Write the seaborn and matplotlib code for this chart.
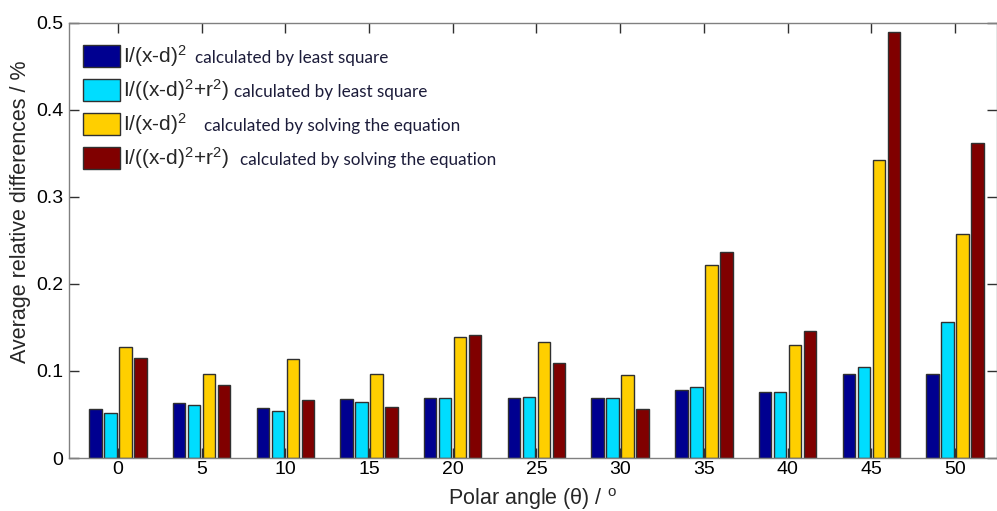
import numpy as np
import pandas as pd
import matplotlib
matplotlib.use("Agg")
import matplotlib.pyplot as plt
from matplotlib.ticker import FuncFormatter
import seaborn as sns

# Polar angles (degrees) and the average relative differences (%) per method
angles = [0, 5, 10, 15, 20, 25, 30, 35, 40, 45, 50]
ls_inv_sq = [0.056, 0.063, 0.057, 0.068, 0.069, 0.069, 0.069, 0.078, 0.076, 0.097, 0.096]
ls_inv_sq_r = [0.052, 0.061, 0.054, 0.064, 0.069, 0.070, 0.069, 0.082, 0.076, 0.105, 0.156]
eq_inv_sq = [0.127, 0.097, 0.114, 0.097, 0.139, 0.133, 0.095, 0.222, 0.130, 0.342, 0.257]
eq_inv_sq_r = [0.115, 0.084, 0.067, 0.059, 0.141, 0.109, 0.056, 0.237, 0.146, 0.489, 0.362]

formulas = [
    r"I/(x-d)$^{\mathrm{2}}$",
    r"I/((x-d)$^{\mathrm{2}}$+r$^{\mathrm{2}}$)",
    r"I/(x-d)$^{\mathrm{2}}$",
    r"I/((x-d)$^{\mathrm{2}}$+r$^{\mathrm{2}}$)",
]
methods = [
    "calculated by least square",
    "calculated by least square",
    "calculated by solving the equation",
    "calculated by solving the equation",
]
colors = ["#000090", "#00DDFF", "#FFCF00", "#800000"]
series = [ls_inv_sq, ls_inv_sq_r, eq_inv_sq, eq_inv_sq_r]

keys = [f"{f} {m}" for f, m in zip(formulas, methods)]
rows = []
for key, vals in zip(keys, series):
    for a, v in zip(angles, vals):
        rows.append({"angle": a, "value": v, "series": key})
df = pd.DataFrame(rows)

sns.set_theme(style="white")
plt.rcParams["font.family"] = ["Liberation Sans", "DejaVu Sans"]
plt.rcParams["mathtext.fontset"] = "custom"
plt.rcParams["mathtext.rm"] = "Liberation Sans"
plt.rcParams["mathtext.it"] = "Liberation Sans:italic"

fig = plt.figure(figsize=(9.97, 5.11), dpi=100)
ax = fig.add_axes([69 / 997, 53 / 511, 927.8 / 997, 435.5 / 511])

sns.barplot(
    data=df, x="angle", y="value", hue="series", hue_order=keys,
    palette=colors, width=0.717, gap=0.17, edgecolor="#303030",
    linewidth=1, saturation=1, ax=ax, legend=True,
)

ax.set_xlim(-0.585, 10.5)
ax.set_ylim(0, 0.5)
ax.set_yticks([0, 0.1, 0.2, 0.3, 0.4, 0.5])
ax.yaxis.set_major_formatter(FuncFormatter(lambda v, p: f"{v:g}"))
ax.set_xticks(range(len(angles)))
ax.set_xticklabels([str(a) for a in angles])

for s in ax.spines.values():
    s.set_visible(True)
    s.set_color("#808080")
    s.set_linewidth(1)
ax.tick_params(axis="both", direction="in", length=7, width=1, color="#303030",
               labelsize=14, labelcolor="black", top=True, right=True,
               bottom=True, left=True)
ax.tick_params(axis="x", pad=2.5)
ax.tick_params(axis="y", pad=4)

ax.set_xlabel(r"Polar angle (θ) / $^{\mathrm{o}}$", fontsize=15.5)
ax.set_ylabel("Average relative differences / %", fontsize=15.5)
ax.xaxis.set_label_coords(0.5, -0.064)
ax.yaxis.set_label_coords(-0.041, 0.565)

handles, _ = ax.get_legend_handles_labels()
ax.get_legend().remove()
leg = ax.legend(
    handles, formulas, loc="upper left", bbox_to_anchor=(14 / 927.8, 1 - 21 / 435.5),
    borderaxespad=0, borderpad=0, frameon=False, fontsize=15,
    handlelength=1.78, handleheight=1.25, handletextpad=0.15, labelspacing=0.38,
)

# Method descriptions written after each formula entry
fig.canvas.draw()
renderer = fig.canvas.get_renderer()
gaps = [8, 5, 17, 11]
for txt, method, gap in zip(leg.get_texts(), methods, gaps):
    bb = txt.get_window_extent(renderer)
    fig.text((bb.x1 + gap) / fig.bbox.width, (bb.y0 + bb.y1) / 2 / fig.bbox.height - 2 / 511,
             method, fontsize=12.3, family=["Lato", "DejaVu Sans"], color="#1c1c3a",
             va="center", ha="left")

fig.savefig("out.png", dpi=100)
